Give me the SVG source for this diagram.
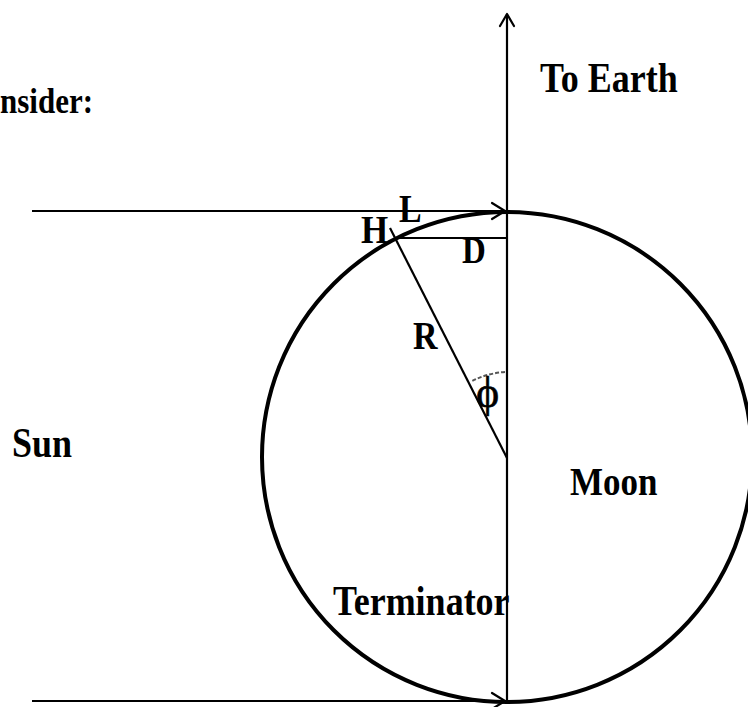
<svg xmlns="http://www.w3.org/2000/svg" width="748" height="707" viewBox="0 0 748 707">
<style>
.t{font-family:"Liberation Serif","Times New Roman",serif;font-weight:bold;fill:#000}
.ln{stroke:#000;stroke-width:2.2;fill:none}
.ah{stroke:#000;stroke-width:2.2;fill:none;stroke-linecap:round;stroke-linejoin:round}
</style>
<rect width="748" height="707" fill="#fff"/>
<g id="moon">
<circle cx="507" cy="457" r="245" fill="none" stroke="#000" stroke-width="4"/>
<text class="t" transform="translate(570,495) scale(1,1.15)" font-size="35">Moon</text>
</g>
<g id="connectors">
<line class="ln" x1="32" y1="211" x2="506" y2="211"/>
<polyline class="ah" points="492,203 505,211 492,219"/>
<line class="ln" x1="32" y1="701" x2="506" y2="701"/>
<polyline class="ah" points="492,693 505,701 492,709"/>
<line class="ln" x1="507" y1="14" x2="507" y2="702"/>
<polyline class="ah" points="500,26 507,14 514,26"/>
<line class="ln" x1="394" y1="238" x2="507" y2="238"/>
<line class="ln" x1="390" y1="228" x2="507" y2="458"/>
<path d="M505,372 A85,85 0 0 0 472,381" fill="none" stroke="#555" stroke-width="2" stroke-dasharray="4,2"/>
</g>
<g id="labels">
<text class="t" transform="translate(0,113) scale(1,1.15)" font-size="31">nsider:</text>
<text class="t" transform="translate(540,92) scale(1,1.15)" font-size="36">To Earth</text>
<text class="t" transform="translate(12,457) scale(1,1.15)" font-size="36">Sun</text>
<text class="t" transform="translate(333,615) scale(1,1.15)" font-size="36">Terminator</text>
<text class="t" transform="translate(361,243) scale(1,1.15)" font-size="35">H</text>
<text class="t" transform="translate(399,222) scale(1,1.15)" font-size="34">L</text>
<text class="t" transform="translate(462,263) scale(1,1.15)" font-size="33">D</text>
<text class="t" transform="translate(413,349) scale(1,1.15)" font-size="34">R</text>
<text x="476" y="407" font-size="44" font-family="Liberation Serif,serif" stroke="#000" stroke-width="0.6">ϕ</text>
</g>
</svg>
